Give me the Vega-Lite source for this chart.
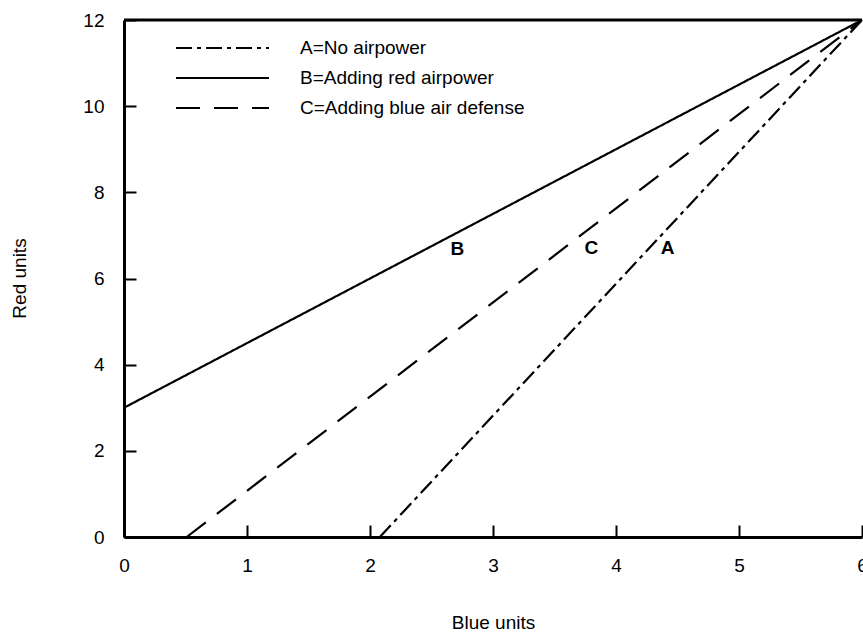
{
  "$schema": "https://vega.github.io/schema/vega-lite/v6.json",
  "width": 738,
  "height": 517,
  "autosize": {"type": "none"},
  "padding": {"left": 124, "top": 20, "right": 1, "bottom": 95},
  "config": {
    "view": {"stroke": null},
    "font": "Liberation Sans",
    "axis": {
      "grid": false,
      "domainColor": "black",
      "domainWidth": 3,
      "tickColor": "black",
      "tickWidth": 2,
      "labelColor": "black",
      "labelFont": "Liberation Sans",
      "labelFontSize": 19,
      "labelFlush": false,
      "labelOverlap": false,
      "titleColor": "black",
      "titleFont": "Liberation Sans",
      "titleFontSize": 19,
      "titleFontWeight": "normal"
    }
  },
  "datasets": {
    "lines": [
      {"series": "A=No airpower", "x": 2.08, "y": 0},
      {"series": "A=No airpower", "x": 6, "y": 12},
      {"series": "B=Adding red airpower", "x": 0, "y": 3},
      {"series": "B=Adding red airpower", "x": 6, "y": 12},
      {"series": "C=Adding blue air defense", "x": 0.51, "y": 0},
      {"series": "C=Adding blue air defense", "x": 6, "y": 12}
    ],
    "labels": [
      {"label": "B", "x": 2.71, "y": 6.68},
      {"label": "C", "x": 3.8, "y": 6.71},
      {"label": "A", "x": 4.42, "y": 6.71}
    ]
  },
  "layer": [
    {
      "data": {"name": "lines"},
      "mark": {"type": "line", "color": "black", "strokeWidth": 2.2},
      "encoding": {
        "x": {
          "field": "x", "type": "quantitative",
          "scale": {"domain": [0, 6], "nice": false},
          "axis": {"values": [0, 1, 2, 3, 4, 5, 6], "format": "d", "title": "Blue units", "tickSize": -12, "labelPadding": 31, "titleY": 91, "titleBaseline": "alphabetic"}
        },
        "y": {
          "field": "y", "type": "quantitative",
          "scale": {"domain": [0, 12], "nice": false},
          "axis": {"values": [0, 2, 4, 6, 8, 10, 12], "format": "d", "title": "Red units", "tickSize": -12, "labelPadding": 32, "titleX": -105, "titleY": 258, "titleAlign": "center", "titleBaseline": "middle"}
        },
        "strokeDash": {
          "field": "series", "type": "nominal",
          "scale": {
            "domain": ["A=No airpower", "B=Adding red airpower", "C=Adding blue air defense"],
            "range": [[16, 5, 4, 5], [1, 0], [24, 14]]
          },
          "legend": {
            "orient": "none", "legendX": 51, "legendY": 18, "title": null,
            "symbolType": "stroke", "symbolSize": 8649, "symbolStrokeWidth": 2,
            "symbolStrokeColor": "black", "labelFontSize": 19, "labelFont": "Liberation Sans",
            "labelColor": "black", "labelOffset": 30, "labelLimit": 0, "rowPadding": 10, "clipHeight": 20, "padding": 0
          }
        }
      }
    },
    {
      "data": {"name": "labels"},
      "mark": {"type": "text", "fontWeight": "bold", "fontSize": 19, "color": "black"},
      "encoding": {
        "x": {"field": "x", "type": "quantitative"},
        "y": {"field": "y", "type": "quantitative"},
        "text": {"field": "label"}
      }
    },
    {
      "data": {"values": [{}]},
      "mark": {"type": "rule", "color": "black", "strokeWidth": 3},
      "encoding": {
        "y": {"datum": 12, "type": "quantitative"}
      }
    }
  ]
}
